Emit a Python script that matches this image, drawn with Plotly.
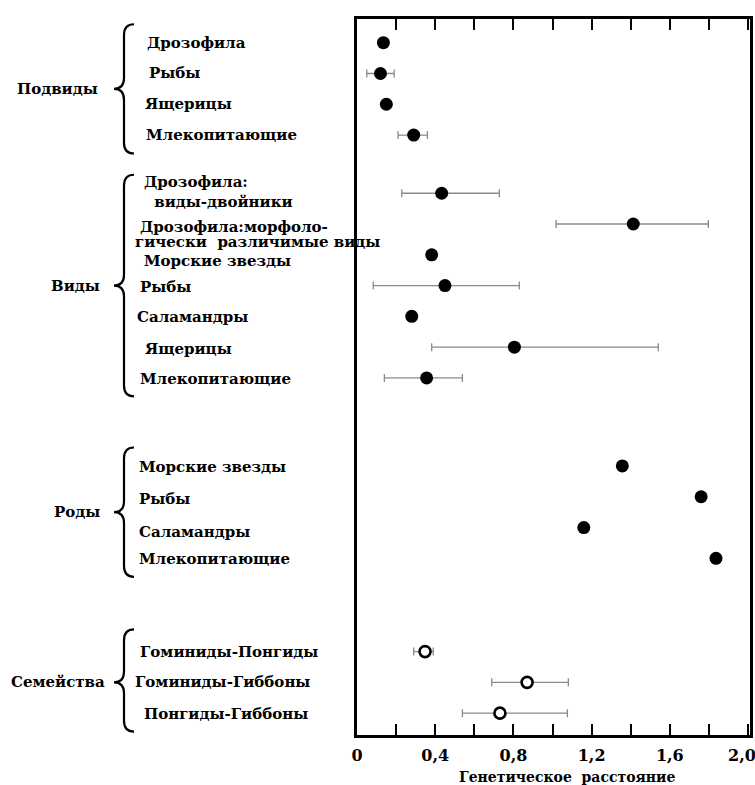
import plotly.graph_objects as go

# ---------------- data ----------------
group_names = ["Подвиды", "Виды", "Роды", "Семейства"]

subspecies_labels = ["Дрозофила", "Рыбы", "Ящерицы", "Млекопитающие"]
subspecies_val = [0.135, 0.12, 0.15, 0.29]
subspecies_lo = [None, 0.05, None, 0.21]
subspecies_hi = [None, 0.19, None, 0.36]

species_labels = ["Дрозофила:\n виды-двойники",
                  "Дрозофила:морфоло-\nгически  различимые виды",
                  "Морские звезды", "Рыбы", "Саламандры", "Ящерицы", "Млекопитающие"]
species_val = [0.433, 1.413, 0.382, 0.45, 0.28, 0.805, 0.356]
species_lo = [0.229, 1.018, None, 0.083, None, 0.382, 0.14]
species_hi = [0.728, 1.797, None, 0.83, None, 1.541, 0.539]

genera_labels = ["Морские звезды", "Рыбы", "Саламандры", "Млекопитающие"]
genera_val = [1.357, 1.76, 1.16, 1.836]
genera_lo = [None, None, None, None]
genera_hi = [None, None, None, None]

family_labels = ["Гоминиды-Понгиды", "Гоминиды-Гиббоны", "Понгиды-Гиббоны"]
family_val = [0.348, 0.87, 0.731]
family_lo = [0.29, 0.689, 0.539]
family_hi = [0.39, 1.081, 1.076]

tick_values = [0, 0.2, 0.4, 0.6, 0.8, 1.0, 1.2, 1.4, 1.6, 1.8, 2.0]
tick_labels = ["0", "", "0,4", "", "0,8", "", "1,2", "", "1,6", "", "2,0"]
x_title = "Генетическое расстояние"

# ---------------- layout helpers ----------------
W, H = 755, 785
ML, MR, MT, MB = 357, 5, 19, 50
PW = W - ML - MR
PH = H - MT - MB

def px_to_paper_x(px):
    return (px - ML) / PW

def px_to_paper_y(py):
    return 1 - (py - MT) / PH

groups = [
    (subspecies_labels, subspecies_val, subspecies_lo, subspecies_hi, False),
    (species_labels, species_val, species_lo, species_hi, False),
    (genera_labels, genera_val, genera_lo, genera_hi, False),
    (family_labels, family_val, family_lo, family_hi, True),
]
# spacing (in row units) from the last row of a group to the first row of the next
group_gaps = [0, 1.89, 2.86, 3.03]

# per-item label left edges (px) and vertical nudges (px, positive = down)
label_left_px = [
    [145, 147, 143, 144],
    [142, 138, 142, 138, 135, 143, 138],
    [137, 137, 137, 137],
    [138, 133, 142],
]
label_nudge_px = [
    [0, 0, 0, 0],
    [0, 0, 6, 1, 1, 2, 1],
    [1, 2, 4, 1],
    [0, 0, 1],
]
multiline_layout = {
    (1, 0): [(142, -11), (147, 9)],
    (1, 1): [(138, 3), (133, 18)],
}
group_label_right_px = [100, 102, 102, 107]

FONT = "DejaVu Serif"
TICKFONT = dict(family=FONT, size=16, color="black", weight="bold")
fig = go.Figure()

row = 0.0
all_rows = []
annotations = []
shapes = []
for gi, (labels, vals, los, his, openm) in enumerate(groups):
    if gi > 0:
        row += group_gaps[gi]
    rows = []
    for i in range(len(labels)):
        if i > 0:
            row += 1
        rows.append(row)
    plus = [None if h is None else h - v for v, h in zip(vals, his)]
    minus = [None if l is None else v - l for v, l in zip(vals, los)]
    fig.add_trace(go.Scatter(
        x=vals, y=rows, mode="markers",
        marker=dict(size=11 if openm else 13,
                    color="white" if openm else "black",
                    line=dict(color="black", width=2.6 if openm else 0)),
        error_x=dict(type="data", array=plus, arrayminus=minus, symmetric=False,
                     color="#8a8a8a", thickness=1.3, width=4),
        showlegend=False, hoverinfo="x",
    ))
    # item labels
    for i, (lab, r) in enumerate(zip(labels, rows)):
        lines = lab.split("\n")
        if len(lines) == 1:
            annotations.append(dict(
                x=px_to_paper_x(label_left_px[gi][i]), xref="paper", xanchor="left",
                y=r, yref="y", yanchor="middle", yshift=-label_nudge_px[gi][i],
                text=lab, showarrow=False,
                font=dict(family=FONT, size=15, color="black", weight="bold")))
        else:
            for (lx, dy), ln in zip(multiline_layout[(gi, i)], lines):
                annotations.append(dict(
                    x=px_to_paper_x(lx), xref="paper", xanchor="left",
                    y=r, yref="y", yanchor="middle", yshift=-dy,
                    text=ln.replace(" ", "&nbsp;"), showarrow=False,
                    font=dict(family=FONT, size=15, color="black", weight="bold")))
    # group label
    ym = (rows[0] + rows[-1]) / 2
    annotations.append(dict(
        x=px_to_paper_x(group_label_right_px[gi]), xref="paper", xanchor="right",
        y=ym, yref="y", yanchor="middle", text=group_names[gi], showarrow=False,
        font=dict(family=FONT, size=15, color="black", weight="bold")))
    # brace
    yt = rows[0] - (0.72 if gi == 3 else 0.6)
    yb = rows[-1] + 0.6
    xr, xm, xl = px_to_paper_x(134), px_to_paper_x(124), px_to_paper_x(114)
    d = 0.35
    path = (f"M {xr},{yt} Q {xm},{yt} {xm},{yt + d} L {xm},{ym - d} "
            f"Q {xm},{ym} {xl},{ym} Q {xm},{ym} {xm},{ym + d} "
            f"L {xm},{yb - d} Q {xm},{yb} {xr},{yb}")
    shapes.append(dict(type="path", path=path, xref="paper", yref="y",
                       line=dict(color="black", width=2.2)))
    all_rows.extend(rows)

annotations.append(dict(
    x=px_to_paper_x(567), xref="paper", xanchor="center",
    y=px_to_paper_y(777), yref="paper", yanchor="middle",
    text=x_title.replace(" ", "&nbsp;&nbsp;"), showarrow=False,
    font=dict(family=FONT, size=14, color="black", weight="bold")))

# the last tick label sits a little left of its tick (it would run off the page)
shown_tick_labels = list(tick_labels)
last_label = shown_tick_labels[-1]
shown_tick_labels[-1] = ""
annotations.append(dict(
    x=tick_values[-1], xref="x", xanchor="center", xshift=-6,
    y=px_to_paper_y(755), yref="paper", yanchor="middle",
    text=last_label, showarrow=False, font=TICKFONT))

slot_top = -0.77
slot_bot = all_rows[-1] + 0.71

fig.update_layout(
    width=W, height=H,
    margin=dict(l=ML, r=MR, t=MT, b=MB, pad=0, autoexpand=False),
    paper_bgcolor="white", plot_bgcolor="white",
    annotations=annotations, shapes=shapes,
    xaxis=dict(range=[0, 2.01], tickvals=tick_values, ticktext=shown_tick_labels,
               ticks="inside", ticklen=11, tickwidth=2, tickcolor="black",
               showline=True, linecolor="black", linewidth=2.5, mirror="ticks",
               showgrid=False, zeroline=False, ticklabelstandoff=4,
               automargin=False, tickfont=TICKFONT),
    yaxis=dict(range=[slot_bot, slot_top], showticklabels=False, ticks="",
               showline=True, linecolor="black", linewidth=2.5, mirror=True,
               showgrid=False, zeroline=False, automargin=False),
)

fig.write_html("out.html")
